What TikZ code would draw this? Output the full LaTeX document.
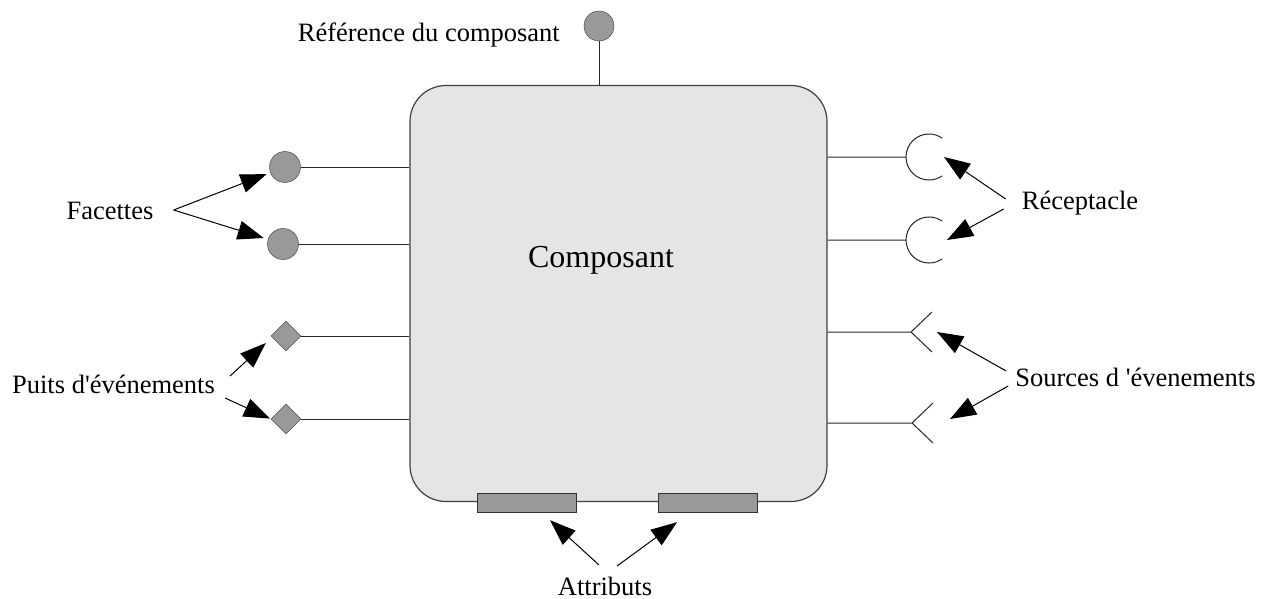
\documentclass[tikz,border=0pt]{standalone}
\usepackage{fontspec}
\setmainfont{Liberation Serif}[Ligatures=TeXOff]
\usetikzlibrary{arrows.meta,shapes.geometric}
\begin{document}
\begin{tikzpicture}[x=1pt,y=-1pt,
  lbl/.style={inner sep=0pt,anchor=base,font=\fontsize{26.5}{30}\selectfont},
  port/.style={circle,draw=black!80,fill=black!40,minimum size=31pt,inner sep=0pt},
  sink/.style={diamond,aspect=1,draw=black!80,fill=black!40,minimum size=30pt,inner sep=0pt},
  attrib/.style={rectangle,draw=black!80,fill=black!40,minimum width=99pt,minimum height=19pt,inner sep=0pt},
  link/.style={draw=black!85,line width=1pt},
  ptr/.style={-{Triangle[length=26pt,width=19pt]},line width=1pt}]
\useasboundingbox (0,0) rectangle (1274,599);
\node[rectangle,rounded corners=36pt,draw=black!75,fill=black!10,line width=1.2pt,
  minimum width=417pt,minimum height=416pt] (comp) at (618.5,293.5) {};
\node[lbl,font=\fontsize{32}{36}\selectfont] (name) at (601,267) {Composant};
% reference
\node[port,minimum size=30pt] (ref) at (599,26) {};
\draw[link] (ref) -- (ref |- comp.north);
\node[lbl,anchor=base east] (reflbl) at (560,42) {Référence du composant};
% facettes
\node[port] (f1) at (285,167) {};
\node[port] (f2) at (283,244) {};
\draw[link] (f1) -- (f1 -| comp.west);
\draw[link] (f2) -- (f2 -| comp.west);
\node[lbl] (fac) at (110,219) {Facettes};
\draw[ptr,shorten >=4pt] ([xshift=20pt,yshift=9pt]fac.base east) -- (f1);
\draw[ptr,shorten >=4.5pt] ([xshift=20pt,yshift=9pt]fac.base east) -- (f2);
% puits
\node[sink] (d1) at (286,336) {};
\node[sink] (d2) at (286,419) {};
\draw[link] (d1) -- (d1 -| comp.west);
\draw[link] (d2) -- (d2 -| comp.west);
\node[lbl] (puits) at (113.5,393) {Puits d'événements};
\draw[ptr] ([xshift=15pt,yshift=17pt]puits.base east) -- ([xshift=-5pt,yshift=-7pt]d1.west);
\draw[ptr,shorten >=1pt] ([xshift=10pt,yshift=-5pt]puits.base east) -- (d2.west);
% receptacles
\coordinate (r1) at (906,157);
\coordinate (r2) at (906,240);
\foreach \r in {r1,r2}
  \draw[link] (\r -| comp.east) -- (\r) arc[start angle=180,end angle=55,radius=23]
    (\r) arc[start angle=180,end angle=305,radius=23];
\node[lbl] (recep) at (1080,209) {Réceptacle};
\draw[ptr] ([xshift=-16pt,yshift=10pt]recep.base west) -- ([xshift=38pt]r1);
\draw[ptr] ([xshift=-18pt]recep.base west) -- ([xshift=41pt]r2);
% sources
\coordinate (s1) at (911,332);
\coordinate (s2) at (912,423);
\foreach \s in {s1,s2}
  \draw[link] (\s -| comp.east) -- (\s) -- ++(21,-20) (\s) -- ++(21,20);
\node[lbl] (src) at (1135.5,386) {Sources d 'évenements};
\draw[ptr] ([xshift=-9pt,yshift=15pt]src.base west) -- ([xshift=26pt]s1);
\draw[ptr] ([xshift=-7pt]src.base west) -- ([xshift=38pt,yshift=4pt]s2);
% attributs
\node[attrib] (a1) at (526.5,502.5) {};
\node[attrib] (a2) at (708,502.5) {};
\node[lbl] (attr) at (605,595) {Attributs};
\draw[ptr] ([xshift=-6pt,yshift=30pt]attr.base) -- ([xshift=23.5pt,yshift=-8pt]a1.south);
\draw[ptr] ([xshift=12pt,yshift=29pt]attr.base) -- ([xshift=-31pt,yshift=-10pt]a2.south);
\end{tikzpicture}
\end{document}
